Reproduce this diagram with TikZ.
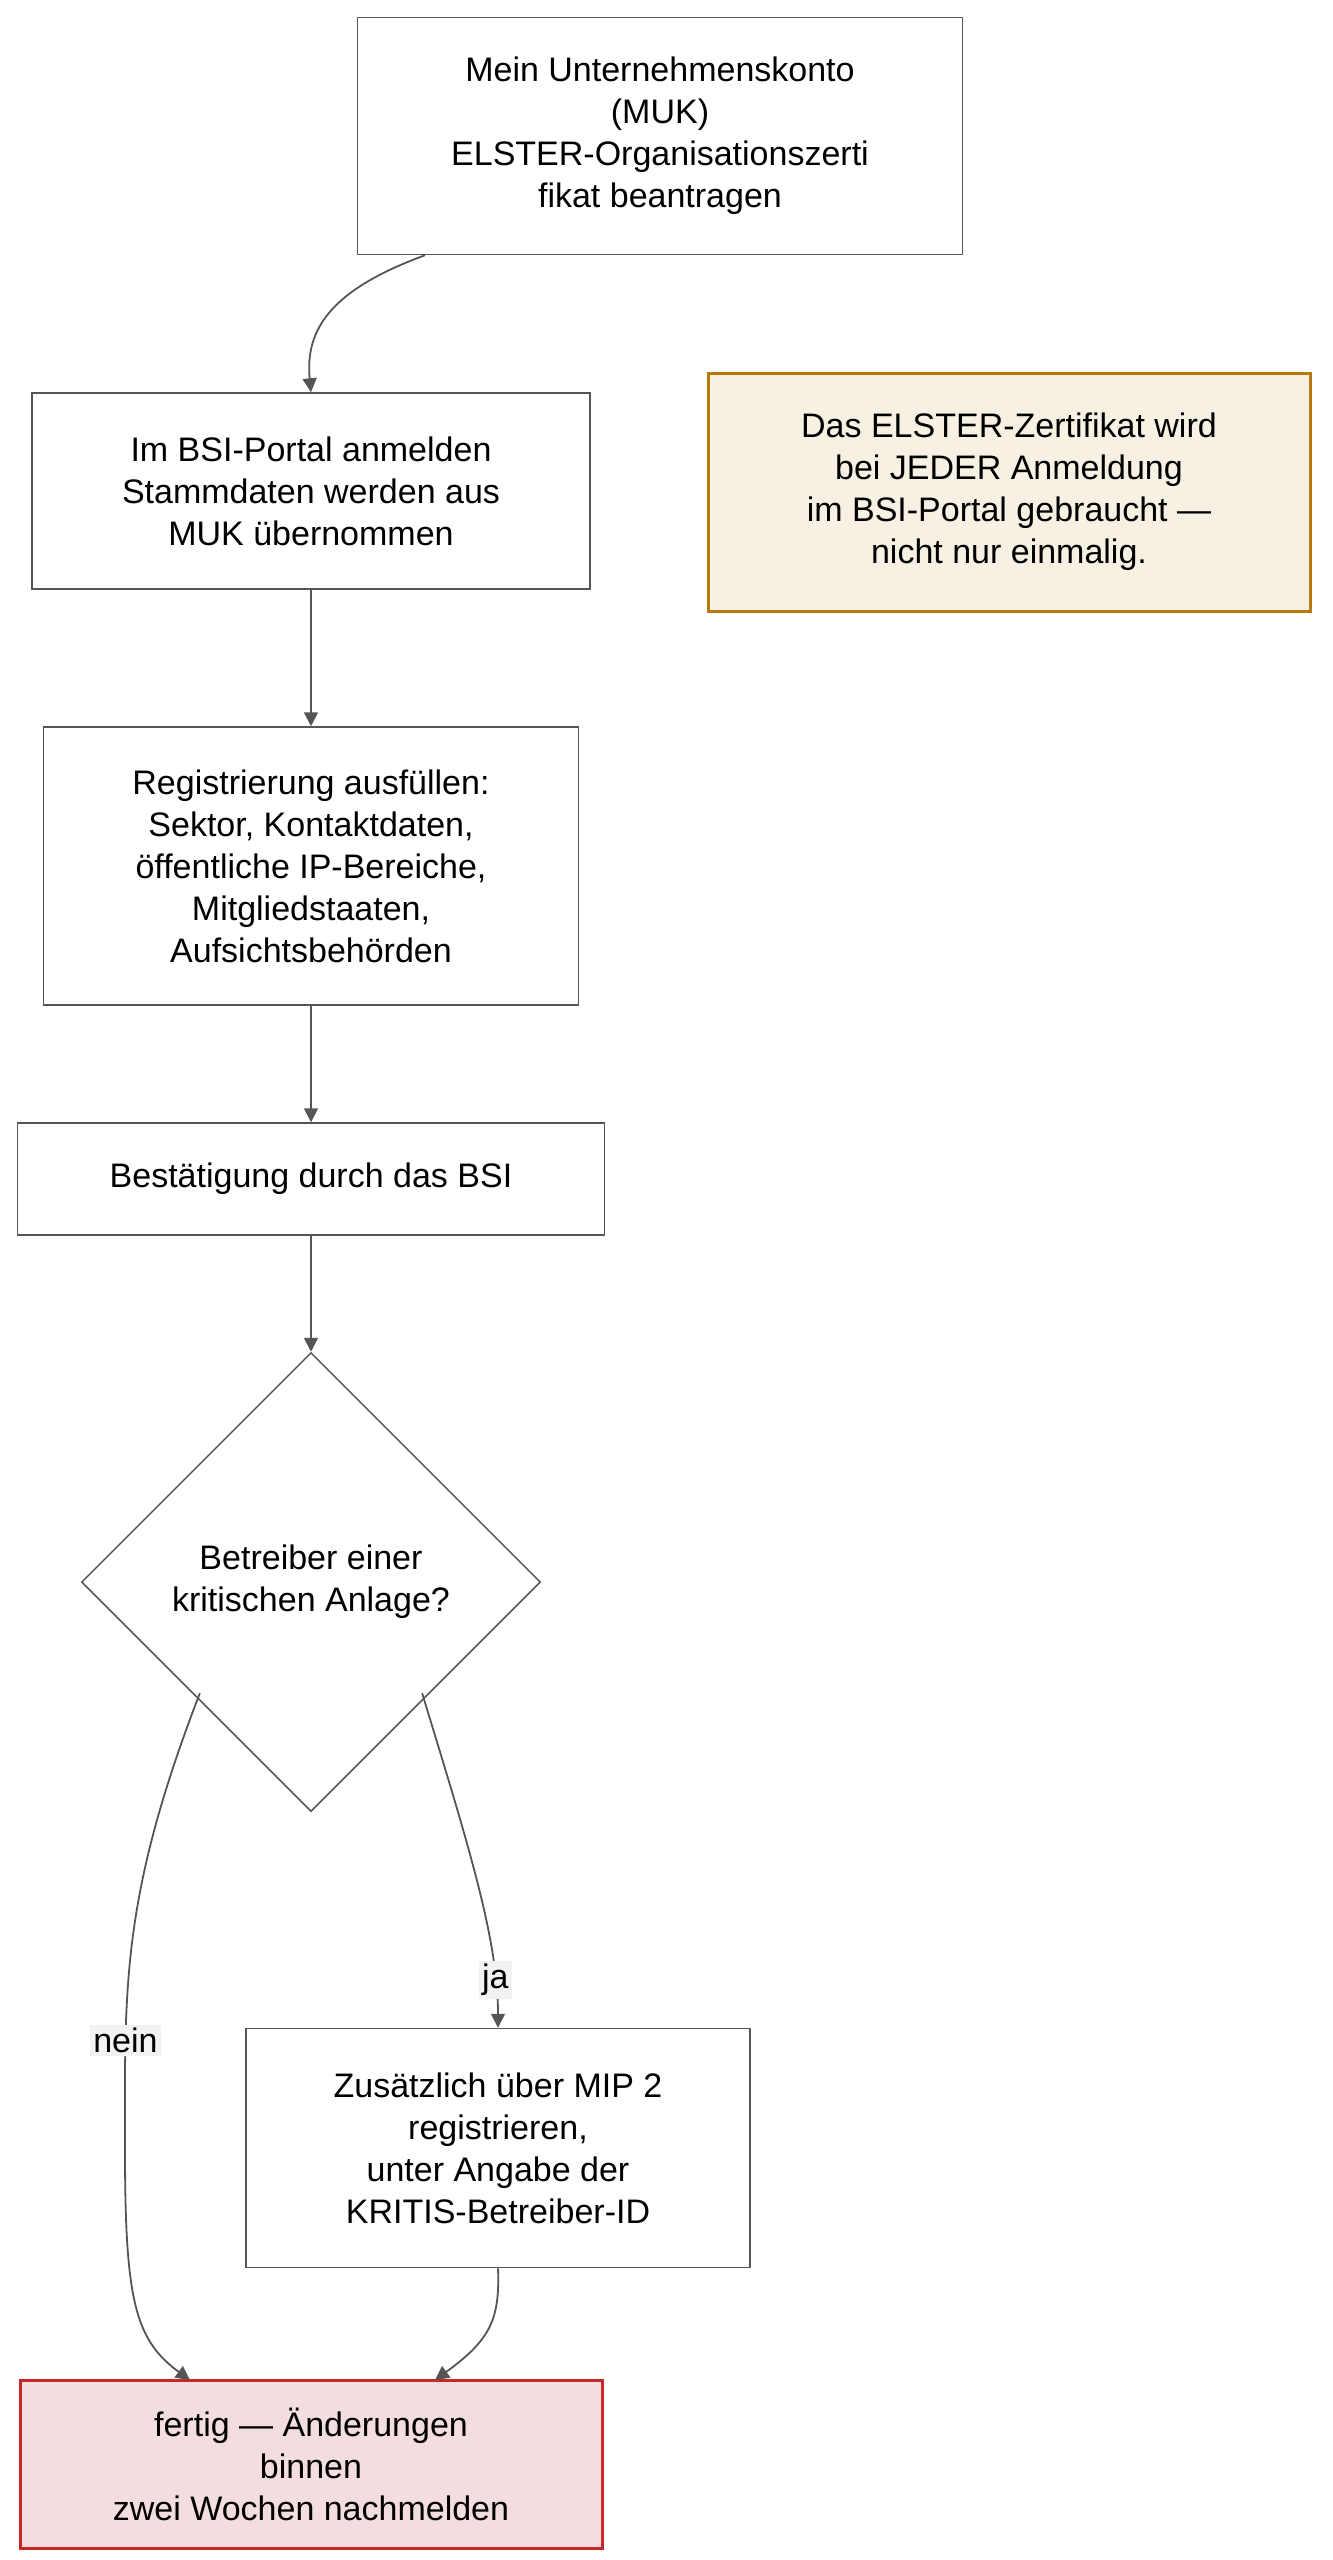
\documentclass[tikz,border=0pt]{standalone}
\usepackage{fontspec}
\setmainfont{Liberation Sans}
\usetikzlibrary{shapes.geometric,arrows.meta}
\definecolor{edgegray}{HTML}{555555}
\definecolor{notefill}{HTML}{F7F1E3}
\definecolor{notedraw}{HTML}{B5790F}
\definecolor{donefill}{HTML}{F4DDE0}
\definecolor{donedraw}{HTML}{C62828}
\tikzset{
  box/.style={draw=edgegray, line width=1.5pt, fill=white, align=center, inner sep=0pt,
    font=\fontsize{34}{42}\selectfont},
  flow/.style={draw=edgegray, line width=1.8pt, -{Triangle[length=14pt,width=14pt]}},
  lbl/.style={fill=gray!10, inner sep=3pt, font=\fontsize{34}{42}\selectfont}
}
\begin{document}
\begin{tikzpicture}[x=1pt,y=-1pt]
    \useasboundingbox (0,0) rectangle (1333,2560);
    % Nodes
    \node[box, minimum width=605pt, minimum height=237pt] (muk) at (660,136)
        {Mein Unternehmenskonto\\(MUK)\\ELSTER-Organisationszerti\\fikat beantragen};
    \node[box, fill=notefill, draw=notedraw, line width=3pt, minimum width=602pt, minimum height=238pt] (note) at (1009,492)
        {Das ELSTER-Zertifikat wird\\bei JEDER Anmeldung\\im BSI-Portal gebraucht —\\nicht nur einmalig.};
    \node[box, minimum width=558pt, minimum height=196pt] (login) at (311,491)
        {Im BSI-Portal anmelden\\Stammdaten werden aus\\MUK übernommen};
    \node[box, minimum width=535pt, minimum height=278pt] (reg) at (311,866)
        {Registrierung ausfüllen:\\Sektor, Kontaktdaten,\\öffentliche IP-Bereiche,\\Mitgliedstaaten,\\Aufsichtsbehörden};
    \node[box, minimum width=587pt, minimum height=112pt] (confirm) at (311,1179)
        {Bestätigung durch das BSI};
    \node[box, diamond, minimum width=459pt, minimum height=459pt] (crit) at (311,1582)
        {Betreiber einer\\kritischen Anlage?};
    \node[box, minimum width=504pt, minimum height=239pt] (mip) at (498,2148)
        {Zusätzlich über MIP 2\\registrieren,\\unter Angabe der\\KRITIS-Betreiber-ID};
    \node[box, fill=donefill, draw=donedraw, line width=3pt, minimum width=582pt, minimum height=168pt] (done) at (311,2464)
        {fertig — Änderungen\\binnen\\zwei Wochen nachmelden};

    % Connectors
    \draw[flow] (muk.south) ++(-235,0) coordinate (m_s) .. controls (330,290) and (305,330) .. (login.north);
    \draw[flow] (login) -- (reg);
    \draw[flow] (reg) -- (confirm);
    \draw[flow] (confirm) -- (crit);
    \draw[flow] (crit.south west) ++(4,-4) coordinate (c_l) .. controls (120,1900) and (125,1990) .. (125,2150)
        node[lbl, pos=0.75] {nein} .. controls (125,2300) and (135,2340) .. (190,2380);
    \draw[flow] (crit.south east) ++(-4,-4) coordinate (c_r) .. controls (470,1850) and (498,1940) .. (mip.north)
        node[lbl, pos=0.82] {ja};
    \draw[flow] (mip.south) .. controls (500,2320) and (490,2340) .. (435,2380);
\end{tikzpicture}
\end{document}
